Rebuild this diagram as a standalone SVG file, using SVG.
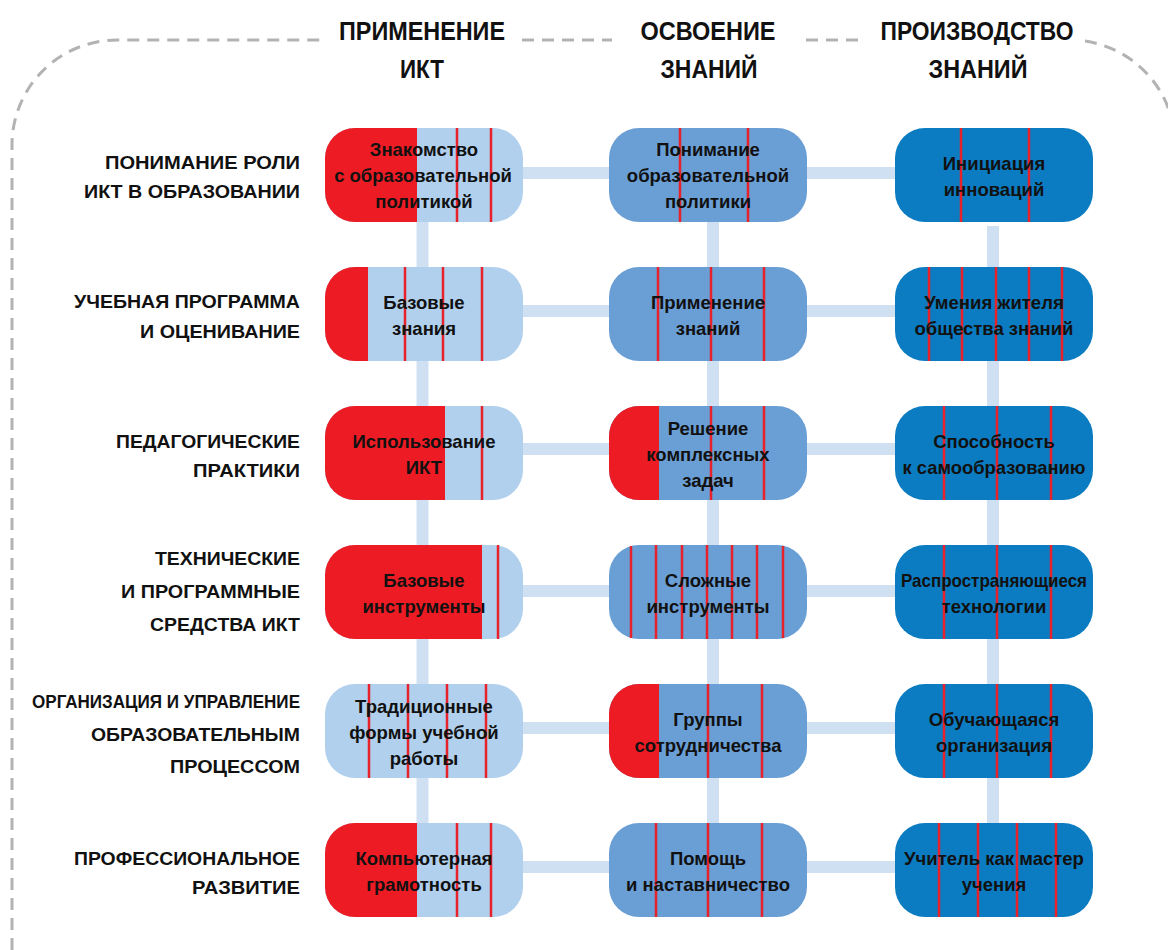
<svg xmlns="http://www.w3.org/2000/svg" width="1168" height="950" viewBox="0 0 1168 950">
<style>
.bg{fill:#ffffff}
.frame{fill:none;stroke:#b3b3b3;stroke-width:3;stroke-dasharray:12 8}
.hdr{font-family:"Liberation Sans",Arial,sans-serif;font-weight:bold;font-size:26px;fill:#111;text-anchor:middle}
.lbl{font-family:"Liberation Sans",Arial,sans-serif;font-weight:bold;font-size:19px;fill:#111;text-anchor:end}
.conn{stroke:#cfe0f3;stroke-width:12;fill:none}
.n1{fill:#b0d0ee}
.n2{fill:#6a9fd6}
.n3{fill:#0b7cc1}
.red{fill:#ed1c24}
.rl{stroke:#e8222a;stroke-width:2.5}
.t{font-family:"Liberation Sans",Arial,sans-serif;font-weight:bold;font-size:18.5px;fill:#111;text-anchor:middle}
</style>
<rect class="bg" x="0" y="0" width="1168" height="950"/>

<g id="frame">
<path class="frame" d="M12 950 V145 A105 105 0 0 1 117 40 H325"/>
<path class="frame" d="M522 40 H612"/>
<path class="frame" d="M806 40 H860"/>
<path class="frame" d="M1085 41.1 A105 105 0 0 1 1175 145 V950"/>
</g>

<g id="headers">
<text class="hdr" x="422" y="40" textLength="166" lengthAdjust="spacingAndGlyphs">ПРИМЕНЕНИЕ</text>
<text class="hdr" x="422" y="78" textLength="44" lengthAdjust="spacingAndGlyphs">ИКТ</text>
<text class="hdr" x="708" y="40" textLength="135" lengthAdjust="spacingAndGlyphs">ОСВОЕНИЕ</text>
<text class="hdr" x="709" y="78" textLength="97" lengthAdjust="spacingAndGlyphs">ЗНАНИЙ</text>
<text class="hdr" x="977" y="40" textLength="193" lengthAdjust="spacingAndGlyphs">ПРОИЗВОДСТВО</text>
<text class="hdr" x="978" y="78" textLength="99" lengthAdjust="spacingAndGlyphs">ЗНАНИЙ</text>
</g>

<g id="row-labels">
<text class="lbl" x="300" y="169" textLength="195" lengthAdjust="spacingAndGlyphs">ПОНИМАНИЕ РОЛИ</text>
<text class="lbl" x="300" y="198" textLength="216" lengthAdjust="spacingAndGlyphs">ИКТ В ОБРАЗОВАНИИ</text>
<text class="lbl" x="300" y="308" textLength="226" lengthAdjust="spacingAndGlyphs">УЧЕБНАЯ ПРОГРАММА</text>
<text class="lbl" x="300" y="338" textLength="160" lengthAdjust="spacingAndGlyphs">И ОЦЕНИВАНИЕ</text>
<text class="lbl" x="300" y="448" textLength="184" lengthAdjust="spacingAndGlyphs">ПЕДАГОГИЧЕСКИЕ</text>
<text class="lbl" x="300" y="477" textLength="107" lengthAdjust="spacingAndGlyphs">ПРАКТИКИ</text>
<text class="lbl" x="300" y="565" textLength="145" lengthAdjust="spacingAndGlyphs">ТЕХНИЧЕСКИЕ</text>
<text class="lbl" x="300" y="598" textLength="179" lengthAdjust="spacingAndGlyphs">И ПРОГРАММНЫЕ</text>
<text class="lbl" x="300" y="631" textLength="150" lengthAdjust="spacingAndGlyphs">СРЕДСТВА ИКТ</text>
<text class="lbl" x="300" y="708" textLength="268" lengthAdjust="spacingAndGlyphs">ОРГАНИЗАЦИЯ И УПРАВЛЕНИЕ</text>
<text class="lbl" x="300" y="741" textLength="209" lengthAdjust="spacingAndGlyphs">ОБРАЗОВАТЕЛЬНЫМ</text>
<text class="lbl" x="300" y="773" textLength="130" lengthAdjust="spacingAndGlyphs">ПРОЦЕССОМ</text>
<text class="lbl" x="300" y="865" textLength="226" lengthAdjust="spacingAndGlyphs">ПРОФЕССИОНАЛЬНОЕ</text>
<text class="lbl" x="300" y="894" textLength="108" lengthAdjust="spacingAndGlyphs">РАЗВИТИЕ</text>
</g>

<g id="connectors">
<line class="conn" x1="424" y1="173" x2="994" y2="173"/>
<line class="conn" x1="424" y1="311" x2="994" y2="311"/>
<line class="conn" x1="424" y1="449" x2="994" y2="449"/>
<line class="conn" x1="424" y1="591" x2="994" y2="591"/>
<line class="conn" x1="424" y1="728" x2="994" y2="728"/>
<line class="conn" x1="424" y1="867" x2="994" y2="867"/>
<line class="conn" x1="422.5" y1="175" x2="422.5" y2="870"/>
<line class="conn" x1="713" y1="175" x2="713" y2="870"/>
<line class="conn" x1="993" y1="226" x2="993" y2="870"/>
</g>

<!-- Row 1 -->
<g id="n-r1c1">
<rect class="n1" x="325" y="128" width="198" height="94" rx="30"/>
<path class="red" d="M417 128 H355 A30 30 0 0 0 325 158 V192 A30 30 0 0 0 355 222 H417 Z"/>
<line class="rl" x1="457" y1="128" x2="457" y2="222"/><line class="rl" x1="491" y1="128" x2="491" y2="222"/>
<text class="t" x="424" y="156">Знакомство</text><text class="t" x="423" y="182">с образовательной</text><text class="t" x="424" y="208">политикой</text>
</g>
<g id="n-r1c2">
<rect class="n2" x="609" y="128" width="198" height="94" rx="30"/>
<line class="rl" x1="680" y1="128" x2="680" y2="222"/><line class="rl" x1="748" y1="128" x2="748" y2="222"/>
<text class="t" x="708" y="156">Понимание</text><text class="t" x="708" y="182">образовательной</text><text class="t" x="708" y="208">политики</text>
</g>
<g id="n-r1c3">
<rect class="n3" x="895" y="128" width="198" height="94" rx="30"/>
<line class="rl" x1="961" y1="128" x2="961" y2="222"/><line class="rl" x1="1029" y1="128" x2="1029" y2="222"/>
<text class="t" x="994" y="170">Инициация</text><text class="t" x="994" y="196">инноваций</text>
</g>

<!-- Row 2 -->
<g id="n-r2c1">
<rect class="n1" x="325" y="267" width="198" height="94" rx="30"/>
<path class="red" d="M368 267 H355 A30 30 0 0 0 325 297 V331 A30 30 0 0 0 355 361 H368 Z"/>
<line class="rl" x1="405" y1="267" x2="405" y2="361"/><line class="rl" x1="443" y1="267" x2="443" y2="361"/><line class="rl" x1="482" y1="267" x2="482" y2="361"/>
<text class="t" x="424" y="309">Базовые</text><text class="t" x="424" y="335">знания</text>
</g>
<g id="n-r2c2">
<rect class="n2" x="609" y="267" width="198" height="94" rx="30"/>
<line class="rl" x1="658" y1="267" x2="658" y2="361"/><line class="rl" x1="711" y1="267" x2="711" y2="361"/><line class="rl" x1="764" y1="267" x2="764" y2="361"/>
<text class="t" x="708" y="309">Применение</text><text class="t" x="708" y="335">знаний</text>
</g>
<g id="n-r2c3">
<rect class="n3" x="895" y="267" width="198" height="94" rx="30"/>
<line class="rl" x1="929" y1="267" x2="929" y2="361"/><line class="rl" x1="962" y1="267" x2="962" y2="361"/><line class="rl" x1="996" y1="267" x2="996" y2="361"/><line class="rl" x1="1029" y1="267" x2="1029" y2="361"/><line class="rl" x1="1062" y1="267" x2="1062" y2="361"/>
<text class="t" x="994" y="309">Умения жителя</text><text class="t" x="994" y="335">общества знаний</text>
</g>

<!-- Row 3 -->
<g id="n-r3c1">
<rect class="n1" x="325" y="406" width="198" height="94" rx="30"/>
<path class="red" d="M445 406 H355 A30 30 0 0 0 325 436 V470 A30 30 0 0 0 355 500 H445 Z"/>
<line class="rl" x1="482" y1="406" x2="482" y2="500"/>
<text class="t" x="424" y="448">Использование</text><text class="t" x="424" y="474">ИКТ</text>
</g>
<g id="n-r3c2">
<rect class="n2" x="609" y="406" width="198" height="94" rx="30"/>
<path class="red" d="M659 406 H639 A30 30 0 0 0 609 436 V470 A30 30 0 0 0 639 500 H659 Z"/>
<line class="rl" x1="711" y1="406" x2="711" y2="500"/><line class="rl" x1="764" y1="406" x2="764" y2="500"/>
<text class="t" x="708" y="435">Решение</text><text class="t" x="708" y="461">комплексных</text><text class="t" x="708" y="487">задач</text>
</g>
<g id="n-r3c3">
<rect class="n3" x="895" y="406" width="198" height="94" rx="30"/>
<line class="rl" x1="944" y1="406" x2="944" y2="500"/><line class="rl" x1="997" y1="406" x2="997" y2="500"/><line class="rl" x1="1051" y1="406" x2="1051" y2="500"/>
<text class="t" x="994" y="448">Способность</text><text class="t" x="994" y="474" textLength="183" lengthAdjust="spacingAndGlyphs">к самообразованию</text>
</g>

<!-- Row 4 -->
<g id="n-r4c1">
<rect class="n1" x="325" y="545" width="198" height="94" rx="30"/>
<path class="red" d="M482 545 H355 A30 30 0 0 0 325 575 V609 A30 30 0 0 0 355 639 H482 Z"/>
<line class="rl" x1="498" y1="545" x2="498" y2="639"/>
<text class="t" x="424" y="587">Базовые</text><text class="t" x="424" y="613">инструменты</text>
</g>
<g id="n-r4c2">
<rect class="n2" x="609" y="545" width="198" height="94" rx="30"/>
<line class="rl" x1="631" y1="546" x2="631" y2="638"/><line class="rl" x1="656" y1="545" x2="656" y2="639"/><line class="rl" x1="682" y1="545" x2="682" y2="639"/><line class="rl" x1="707" y1="545" x2="707" y2="639"/><line class="rl" x1="732" y1="545" x2="732" y2="639"/><line class="rl" x1="757" y1="545" x2="757" y2="639"/><line class="rl" x1="783" y1="546" x2="783" y2="638"/>
<text class="t" x="708" y="587">Сложные</text><text class="t" x="708" y="613">инструменты</text>
</g>
<g id="n-r4c3">
<rect class="n3" x="895" y="545" width="198" height="94" rx="30"/>
<line class="rl" x1="944" y1="545" x2="944" y2="639"/><line class="rl" x1="997" y1="545" x2="997" y2="639"/><line class="rl" x1="1051" y1="545" x2="1051" y2="639"/>
<text class="t" x="994" y="587" textLength="186" lengthAdjust="spacingAndGlyphs">Распространяющиеся</text><text class="t" x="994" y="613">технологии</text>
</g>

<!-- Row 5 -->
<g id="n-r5c1">
<rect class="n1" x="325" y="684" width="198" height="94" rx="30"/>
<line class="rl" x1="369" y1="684" x2="369" y2="778"/><line class="rl" x1="408" y1="684" x2="408" y2="778"/><line class="rl" x1="447" y1="684" x2="447" y2="778"/><line class="rl" x1="486" y1="684" x2="486" y2="778"/>
<text class="t" x="424" y="713">Традиционные</text><text class="t" x="424" y="739">формы учебной</text><text class="t" x="424" y="765">работы</text>
</g>
<g id="n-r5c2">
<rect class="n2" x="609" y="684" width="198" height="94" rx="30"/>
<path class="red" d="M659 684 H639 A30 30 0 0 0 609 714 V748 A30 30 0 0 0 639 778 H659 Z"/>
<line class="rl" x1="708" y1="684" x2="708" y2="778"/><line class="rl" x1="762" y1="684" x2="762" y2="778"/>
<text class="t" x="708" y="726">Группы</text><text class="t" x="708" y="752">сотрудничества</text>
</g>
<g id="n-r5c3">
<rect class="n3" x="895" y="684" width="198" height="94" rx="30"/>
<line class="rl" x1="944" y1="684" x2="944" y2="778"/><line class="rl" x1="997" y1="684" x2="997" y2="778"/><line class="rl" x1="1051" y1="684" x2="1051" y2="778"/>
<text class="t" x="994" y="726">Обучающаяся</text><text class="t" x="994" y="752">организация</text>
</g>

<!-- Row 6 -->
<g id="n-r6c1">
<rect class="n1" x="325" y="823" width="198" height="94" rx="30"/>
<path class="red" d="M417 823 H355 A30 30 0 0 0 325 853 V887 A30 30 0 0 0 355 917 H417 Z"/>
<line class="rl" x1="457" y1="823" x2="457" y2="917"/><line class="rl" x1="491" y1="823" x2="491" y2="917"/>
<text class="t" x="424" y="865">Компьютерная</text><text class="t" x="424" y="891">грамотность</text>
</g>
<g id="n-r6c2">
<rect class="n2" x="609" y="823" width="198" height="94" rx="30"/>
<line class="rl" x1="656" y1="823" x2="656" y2="917"/><line class="rl" x1="708" y1="823" x2="708" y2="917"/><line class="rl" x1="762" y1="823" x2="762" y2="917"/>
<text class="t" x="708" y="865">Помощь</text><text class="t" x="708" y="891">и наставничество</text>
</g>
<g id="n-r6c3">
<rect class="n3" x="895" y="823" width="198" height="94" rx="30"/>
<line class="rl" x1="939" y1="823" x2="939" y2="917"/><line class="rl" x1="978" y1="823" x2="978" y2="917"/><line class="rl" x1="1017" y1="823" x2="1017" y2="917"/><line class="rl" x1="1056" y1="823" x2="1056" y2="917"/>
<text class="t" x="994" y="865">Учитель как мастер</text><text class="t" x="994" y="891">учения</text>
</g>
</svg>
